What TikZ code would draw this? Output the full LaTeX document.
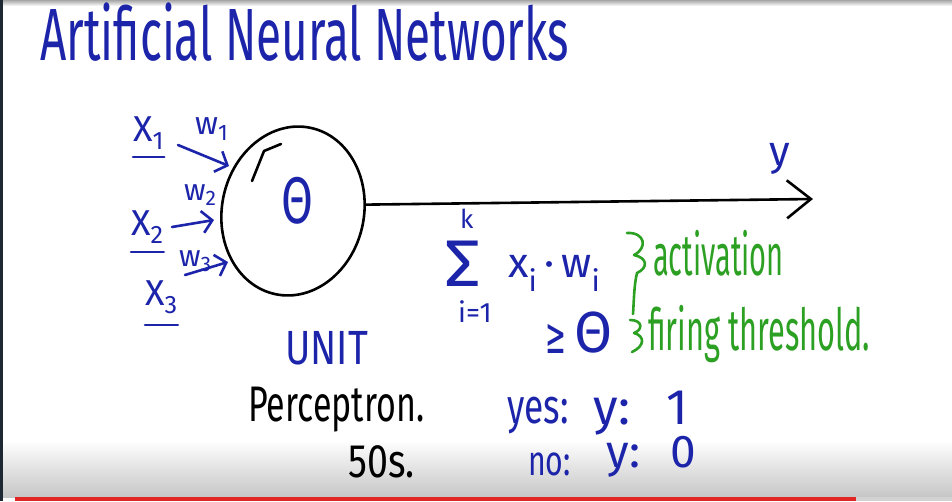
\documentclass[tikz,border=0pt]{standalone}
\usepackage{fontspec}
\setmainfont{Fira Sans}
\newfontfamily\mathsym{DejaVu Sans}
\usepackage{graphicx}
\usetikzlibrary{shapes.geometric, arrows.meta, positioning, calc}
\definecolor{inkblue}{RGB}{28, 36, 170}
\definecolor{inkgreen}{RGB}{44, 160, 34}
\definecolor{barred}{RGB}{226, 38, 38}
\definecolor{framedark}{RGB}{30, 40, 50}
\newcommand{\penfont}[1]{\fontsize{#1}{#1}\selectfont}
\newcommand{\squeeze}[2]{\scalebox{#1}[1]{#2}}

\begin{document}
\begin{tikzpicture}[x=1pt, y=-1pt,
    ink/.style={line width=2.6pt, line cap=round, line join=round, draw=#1},
    ink/.default=inkblue,
    scrawl/.style={inner sep=0pt, anchor=base west, text=#1},
    scrawl/.default=inkblue,
    inarrow/.style={ink, -{Straight Barb[length=10pt, width=22pt]}}
]

% Screen frame
\useasboundingbox (0,0) rectangle (952,501);
\fill[white] (0,0) rectangle (952,501);
\shade[top color=gray!70, bottom color=white] (0,0) rectangle (952,6);
\shade[top color=white, bottom color=gray!45] (0,440) rectangle (952,497);
\fill[framedark] (0,0) rectangle (3,501);
\fill[barred] (15,497) rectangle (856,501);
\fill[gray!35] (856,497) rectangle (952,501);

% Title
\node[scrawl, font=\penfont{74}] (title) at (40,60) {\squeeze{0.62}{Artificial Neural Networks}};

% Unit
\node[ellipse, draw, line width=2.6pt, minimum width=142pt, minimum height=170pt, rotate=-12] (unit) at (293,211) {};
\draw[ink=black] (252,181) -- (264,151) -- (281,144);
\node[inner sep=0pt, text=inkblue, font=\penfont{66}] (theta) at (297,201) {\squeeze{0.7}{Θ}};

% Output
\coordinate (out) at (813,199);
\draw[ink=black, -{Straight Barb[length=24pt, width=38pt]}] (unit.17) -- (out);
\node[scrawl, font=\penfont{42}] (ylab) at (769,165) {y};

% Inputs
\node[scrawl, font=\penfont{36}] (x1) at (133,141) {X\textsubscript{1}};
\node[scrawl, font=\penfont{36}] (x2) at (131,235) {X\textsubscript{2}};
\node[scrawl, font=\penfont{36}] (x3) at (145,305) {X\textsubscript{3}};
\draw[ink] ([yshift=-16pt]x1.base west) -- ([yshift=-16pt]x1.base east);
\draw[ink] ([yshift=-17pt]x2.base west) -- ([yshift=-17pt]x2.base east);
\draw[ink] ([yshift=-20pt]x3.base west) -- ([yshift=-20pt]x3.base east);

\node[scrawl, font=\penfont{32}] (w1) at (195,134) {w\textsubscript{1}};
\node[scrawl, font=\penfont{30}] (w2) at (184,200) {w\textsubscript{2}};
\node[scrawl, font=\penfont{30}] (w3) at (179,266) {w\textsubscript{3}};

\coordinate (tail1) at (178,145);
\coordinate (tip1) at (229,166);
\coordinate (tail2) at (172,227);
\coordinate (tip2) at (214,220);
\coordinate (tail3) at (185,275);
\coordinate (tip3) at (228,262);
\foreach \n in {1,2,3}
    \draw[inarrow] (tail\n) -- (tip\n);

% Labels under the unit
\node[scrawl, font=\penfont{48}] (unitlab) at (285,364) {\squeeze{0.8}{UNIT}};
\node[scrawl=black, font=\penfont{50}] (perc) at (248,421) {\squeeze{0.68}{Perceptron.}};
\node[scrawl=black, font=\penfont{47}] (fifties) at (348,477) {\squeeze{0.8}{50s.}};

% Weighted sum
\node[scrawl, font=\penfont{66}] (sum) at (444,286) {\squeeze{1.1}{Σ}};
\node[scrawl, font=\penfont{26}] (sumtop) at (460,228) {k};
\node[scrawl, font=\penfont{28}] (sumbot) at (458,322) {i=1};
\node[scrawl, font=\penfont{42}] (xw) at (508,277) {x\textsubscript{i}\,·\,w\textsubscript{i}};
\draw[ink=inkgreen] (627,233) .. controls (645,232) and (648,248) .. (634,255)
    .. controls (648,258) and (648,268) .. (637,273)
    .. controls (634,285) and (634,300) .. (633,314);
\node[scrawl=inkgreen, font=\penfont{58}] (act) at (653,275) {\squeeze{0.5}{activation}};

% Threshold
\node[scrawl, font=\penfont{50}] (geq) at (545,353) {\squeeze{0.5}{\mathsym ≥}};
\node[scrawl, font=\penfont{58}] (theta2) at (574,352) {\squeeze{0.95}{Θ}};
\draw[ink=inkgreen] (630,320) .. controls (643,320) and (643,330) .. (634,333)
    .. controls (645,336) and (645,346) .. (632,352);
\node[scrawl=inkgreen, font=\penfont{58}] (fire) at (648,350) {\squeeze{0.53}{firing threshold.}};

% Outputs
\node[scrawl, font=\penfont{49}] (yes) at (507,423) {\squeeze{0.72}{yes:}};
\node[scrawl, font=\penfont{50}] (yone) at (593,424) {y:\hspace{36pt}1};
\node[scrawl, font=\penfont{42}] (no) at (528,475) {\squeeze{0.72}{no:}};
\node[scrawl, font=\penfont{46}] (yzero) at (606,467) {y:\hspace{30pt}0};

\end{tikzpicture}
\end{document}
